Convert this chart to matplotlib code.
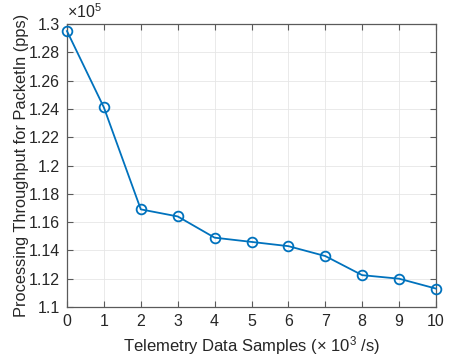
import numpy as np
import matplotlib.pyplot as plt

plt.rcParams['font.family'] = ['Liberation Sans', 'DejaVu Sans']
plt.rcParams['mathtext.fontset'] = 'custom'
plt.rcParams['mathtext.rm'] = 'Liberation Sans'
plt.rcParams['mathtext.it'] = 'Liberation Sans:italic'

# data
samples = [0, 1, 2, 3, 4, 5, 6, 7, 8, 9, 10]
throughput = [129500, 124100, 116900, 116400, 114900, 114600, 114300, 113600, 112250, 112000, 111300]
yticks = [1.1, 1.12, 1.14, 1.16, 1.18, 1.2, 1.22, 1.24, 1.26, 1.28, 1.3]
ytick_labels = ['1.1', '1.12', '1.14', '1.16', '1.18', '1.2', '1.22', '1.24', '1.26', '1.28', '1.3']

scale = 1e5
blue = '#0072BD'
dark = '#262626'
axis_gray = '#5A5A5A'

fig = plt.figure(figsize=(4.52, 3.56), dpi=100)
ax = fig.add_axes([67 / 452, 1 - 307 / 356, (436 - 67) / 452, (307 - 24) / 356])

ax.plot(samples, np.array(throughput) / scale, color=blue, linewidth=1.3,
        marker='o', markersize=7, markerfacecolor='none', markeredgewidth=1.3,
        clip_on=False, zorder=3)

ax.set_xlim(0, 10)
ax.set_ylim(1.1, 1.3)
ax.set_xticks(samples)
ax.set_yticks(yticks)
ax.set_yticklabels(ytick_labels)

ax.grid(True, color='#E6E6E6', linewidth=0.6)
ax.set_axisbelow(True)
ax.tick_params(direction='in', top=True, right=True, length=4, width=0.8,
               labelsize=11.5, colors=axis_gray, labelcolor=dark, pad=5)
for s in ax.spines.values():
    s.set_color(axis_gray)
    s.set_linewidth(0.9)

ax.set_xlabel(r'Telemetry Data Samples ($\times$ 10$^3$ /s)', fontsize=12, color=dark, labelpad=4)
ax.set_ylabel('Processing Throughput for PacketIn (pps)', fontsize=11.8, color=dark)
ax.yaxis.set_label_coords(-0.104, 0.5)
ax.text(0.0, 1.01, r'$\times$10$^5$', transform=ax.transAxes, fontsize=11.5,
        color=dark, ha='left', va='bottom')

fig.savefig('out.png', dpi=100)
